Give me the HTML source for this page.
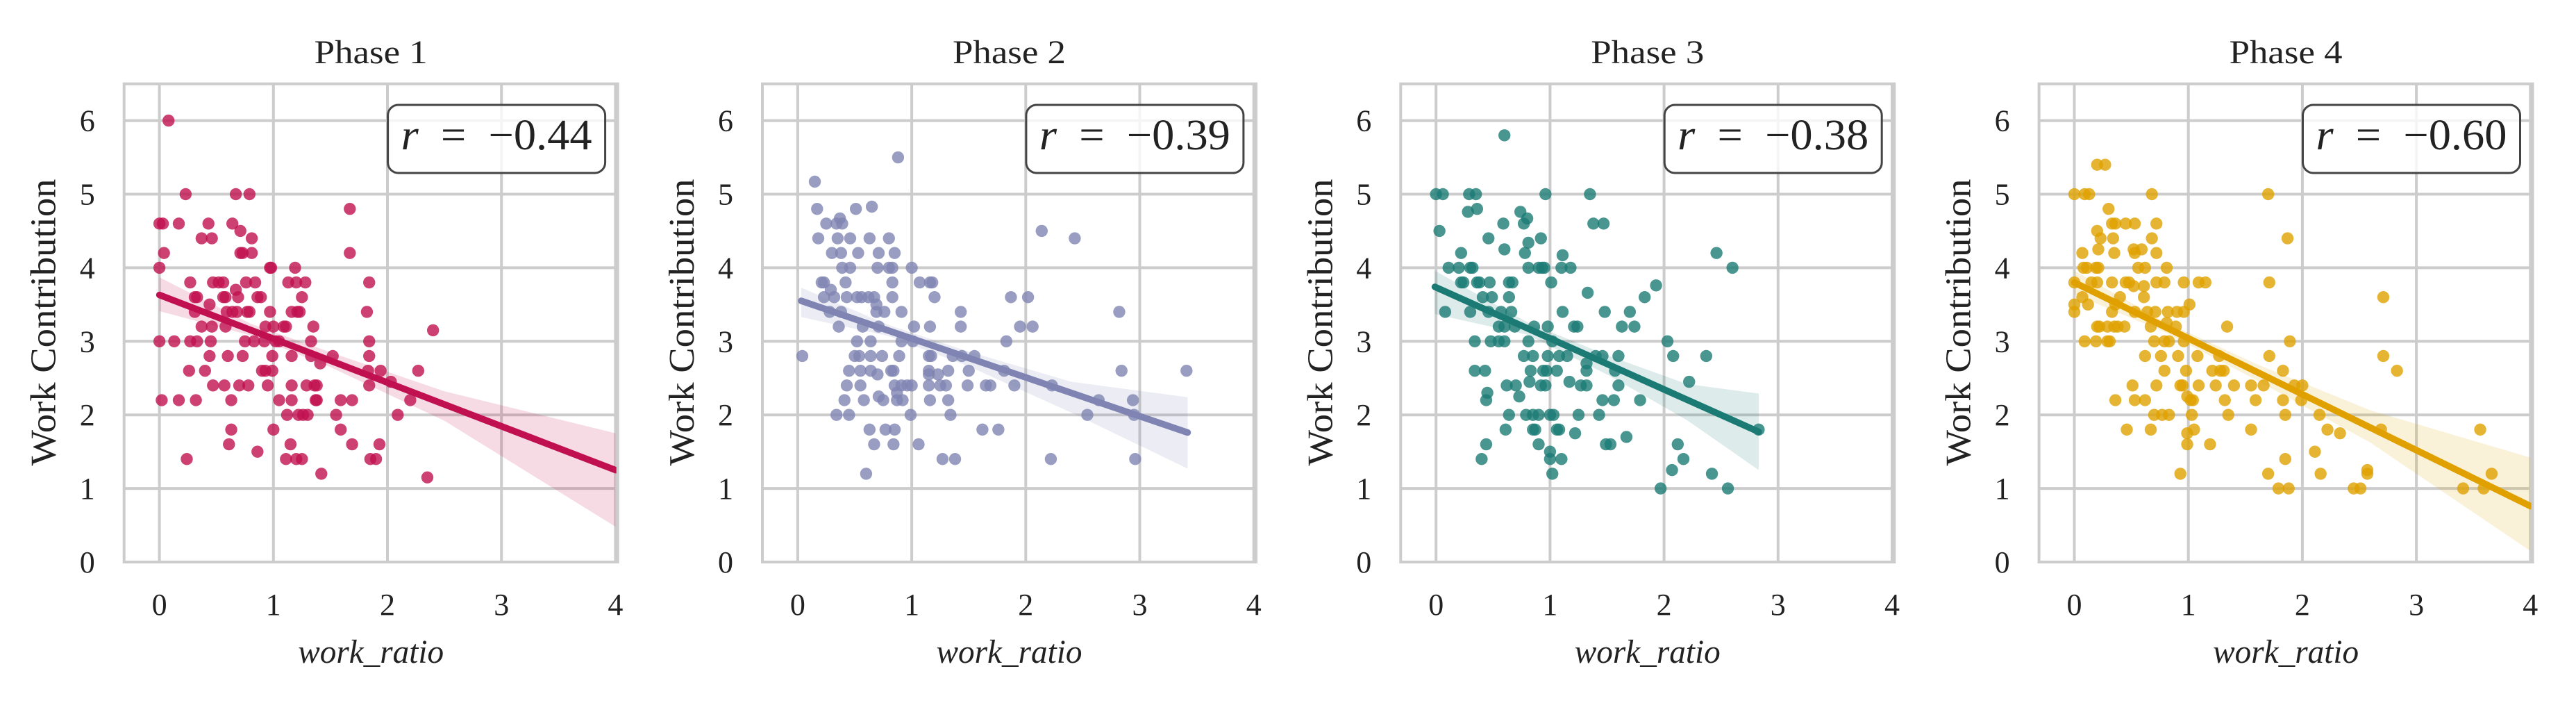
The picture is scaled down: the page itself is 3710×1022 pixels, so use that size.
<!DOCTYPE html>
<html><head><meta charset="utf-8"><style>
html,body{margin:0;padding:0;background:#fff;}
svg{display:block;}
text{font-family:"Liberation Serif",serif;fill:#222;}
</style></head><body>
<svg id="chart" width="3710" height="1022" viewBox="0 0 3710 1022" xmlns="http://www.w3.org/2000/svg"></svg>
<script>
const phaseTitles = ["Phase 1","Phase 2","Phase 3","Phase 4"];
const rLabels = ["\u22120.44","\u22120.39","\u22120.38","\u22120.60"];
const colors = ["#c0104f","#7f84b2","#1b7b74","#e0a100"];
const xTicks = [0,1,2,3,4];
const yTicks = [0,1,2,3,4,5,6];
// scatter data (x = work_ratio, y = Work Contribution)
const p1x = [0.08,0.23,0.67,0.79,1.67,0,0.03,0.17,0.43,0.64,0.71,0.37,0.46,0.81,0.04,0.71,0.73,0.81,1.67,0,0.97,0.98,1.19,0.27,0.47,0.52,0.56,0.76,0.84,1.84,1.13,1.20,1.28,0.67,0.31,0.33,0.56,0.58,0.69,0.86,0.89,1.25,0.44,0.31,0.59,0.64,0.68,0.77,0.79,0.97,1.16,1.21,1.23,1.82,0.37,0.46,0.58,0.93,1.0,1.09,1.11,1.35,2.40,0,0.13,0.27,0.33,0.45,0.75,0.83,0.92,1.02,1.05,1.33,1.84,0.44,0.60,0.73,0.99,1.16,1.33,1.52,1.84,1.41,0.26,0.40,0.90,0.93,0.99,1.83,1.94,2.27,0.47,0.57,0.70,0.78,0.95,1.16,1.29,1.36,1.38,1.84,2.03,0.02,0.17,0.32,0.63,1.05,1.16,1.37,1.38,1.59,1.69,2.20,1.12,1.22,1.26,1.30,1.55,2.09,0.63,1.0,1.59,0.61,1.15,1.69,1.93,0.86,0.24,1.11,1.20,1.25,1.85,1.90,1.42,2.35];
const p1y = [6.0,5.0,5.0,5.0,4.8,4.6,4.6,4.6,4.6,4.6,4.5,4.4,4.4,4.4,4.2,4.2,4.2,4.2,4.2,4.0,4.0,4.0,4.0,3.8,3.8,3.8,3.8,3.8,3.8,3.8,3.8,3.8,3.8,3.7,3.6,3.6,3.6,3.6,3.6,3.6,3.6,3.6,3.5,3.4,3.4,3.4,3.4,3.4,3.4,3.4,3.4,3.4,3.4,3.4,3.2,3.2,3.2,3.2,3.2,3.2,3.2,3.2,3.15,3.0,3.0,3.0,3.0,3.0,3.0,3.0,3.0,3.0,3.0,3.0,3.0,2.8,2.8,2.8,2.8,2.8,2.8,2.8,2.8,2.7,2.6,2.6,2.6,2.6,2.6,2.6,2.6,2.6,2.4,2.4,2.4,2.4,2.4,2.4,2.4,2.4,2.4,2.4,2.45,2.2,2.2,2.2,2.2,2.2,2.2,2.2,2.2,2.2,2.2,2.2,2.0,2.0,2.0,2.0,2.0,2.0,1.8,1.8,1.8,1.6,1.6,1.6,1.6,1.5,1.4,1.4,1.4,1.4,1.4,1.4,1.2,1.15];
const p2x = [0.88,0.15,0.17,0.51,0.65,0.25,0.37,0.39,0.34,2.14,2.43,0.18,0.35,0.46,0.63,0.80,0.30,0.38,0.53,0.71,0.85,0.39,0.46,0.70,0.80,0.83,1.0,0.21,0.23,0.42,0.83,1.07,1.16,1.18,0.29,0.23,0.32,0.43,0.52,0.56,0.62,0.67,0.83,1.20,1.87,2.02,0.69,0.28,0.38,0.69,0.76,0.91,1.43,2.82,0.36,0.57,0.71,1.02,1.16,1.43,1.95,2.06,0.52,0.64,0.91,1.01,1.83,0.04,0.50,0.54,0.64,0.74,0.89,1.15,1.17,1.36,1.44,1.55,0.45,0.55,0.64,0.82,0.84,1.15,1.32,1.50,1.81,2.84,3.41,0.70,1.15,1.23,0.43,0.55,0.85,0.91,0.96,1.0,1.15,1.25,1.30,1.49,1.65,1.69,1.90,2.23,0.87,0.71,0.41,0.58,0.75,0.87,0.92,1.16,1.32,2.64,2.94,0.34,0.45,0.99,1.34,2.54,2.95,0.63,0.77,0.85,1.62,1.76,0.67,0.84,1.06,1.27,1.38,2.22,2.96,0.60];
const p2y = [5.5,5.17,4.8,4.8,4.83,4.6,4.67,4.6,4.6,4.5,4.4,4.4,4.4,4.4,4.4,4.4,4.2,4.2,4.2,4.2,4.2,4.0,4.0,4.0,4.0,4.0,4.0,3.8,3.8,3.8,3.8,3.8,3.8,3.8,3.7,3.6,3.6,3.6,3.6,3.6,3.6,3.6,3.6,3.6,3.6,3.6,3.5,3.4,3.4,3.4,3.4,3.4,3.4,3.4,3.2,3.2,3.2,3.2,3.2,3.2,3.2,3.2,3.0,3.0,3.0,3.0,3.0,2.8,2.8,2.8,2.8,2.8,2.8,2.8,2.8,2.8,2.8,2.8,2.6,2.6,2.6,2.6,2.6,2.6,2.6,2.6,2.6,2.6,2.6,2.55,2.55,2.55,2.4,2.4,2.4,2.4,2.4,2.4,2.4,2.4,2.4,2.4,2.4,2.4,2.4,2.4,2.3,2.25,2.2,2.2,2.2,2.2,2.2,2.2,2.2,2.2,2.2,2.0,2.0,2.0,2.0,2.0,2.0,1.8,1.8,1.8,1.8,1.8,1.6,1.6,1.6,1.4,1.4,1.4,1.4,1.2];
const p3x = [0.60,0.0,0.06,0.29,0.35,0.96,1.35,0.28,0.36,0.74,0.80,0.77,0.59,1.38,1.47,0.03,0.46,0.92,0.81,0.60,0.78,0.22,1.11,2.46,0.11,0.20,0.30,0.32,0.81,0.90,0.93,0.95,1.10,1.18,2.60,0.22,0.24,0.36,0.38,0.47,0.64,0.67,1.01,1.93,1.33,1.83,0.41,0.49,0.64,0.08,0.30,0.46,0.57,0.66,1.11,1.48,1.70,0.55,0.60,0.69,0.86,0.98,1.21,1.24,1.63,1.74,0.34,0.48,0.55,0.60,0.81,1.02,2.03,0.77,0.85,0.98,1.08,1.15,1.40,1.46,1.60,2.08,2.37,1.32,0.34,0.43,0.83,0.94,0.97,1.06,1.32,1.57,0.82,1.17,2.22,0.62,0.70,0.92,0.96,1.27,1.32,1.60,0.45,0.73,0.44,1.46,1.56,1.79,0.64,0.79,0.85,0.90,1.0,1.03,1.25,1.43,0.61,0.85,0.87,1.06,1.08,2.83,1.22,1.67,0.44,0.90,1.49,1.53,2.12,0.40,1.0,1.10,2.17,1.0,2.07,1.02,2.42,1.97,2.56];
const p3y = [5.8,5.0,5.0,5.0,5.0,5.0,5.0,4.76,4.8,4.76,4.67,4.6,4.6,4.6,4.6,4.5,4.4,4.4,4.34,4.25,4.2,4.2,4.17,4.2,4.0,4.0,4.0,4.0,4.0,4.0,4.0,4.0,4.0,4.0,4.0,3.8,3.8,3.8,3.8,3.8,3.8,3.8,3.8,3.76,3.66,3.6,3.6,3.6,3.6,3.4,3.4,3.4,3.4,3.4,3.4,3.4,3.4,3.2,3.2,3.2,3.2,3.2,3.2,3.2,3.2,3.2,3.0,3.0,3.0,3.0,3.0,3.0,3.0,2.8,2.8,2.8,2.8,2.8,2.8,2.8,2.8,2.8,2.8,2.7,2.6,2.6,2.6,2.6,2.6,2.6,2.6,2.6,2.45,2.45,2.45,2.4,2.4,2.4,2.4,2.4,2.4,2.4,2.3,2.25,2.2,2.2,2.2,2.2,2.0,2.0,2.0,2.0,2.0,2.0,2.0,2.0,1.8,1.8,1.8,1.8,1.8,1.8,1.75,1.7,1.6,1.6,1.6,1.6,1.6,1.4,1.4,1.4,1.4,1.5,1.25,1.2,1.2,1.0,1.0];
const p4x = [0.20,0.27,0,0.09,0.13,0.68,1.70,0.30,0.33,0.36,0.45,0.53,0.72,0.20,0.23,0.34,0.68,1.87,0.21,0.52,0.59,0.07,0.35,0.53,0.72,0.08,0.11,0.19,0.21,0.56,0.62,0.81,0,0.15,0.20,0.33,0.45,0.48,0.72,0.79,0.96,1.09,1.15,1.71,0.52,0.61,0.07,0.40,0.61,2.71,0,0.12,0.36,1.01,0,0.33,0.53,0.64,0.71,0.82,0.90,0.96,0.81,0.20,0.22,0.29,0.35,0.38,0.44,0.67,0.89,1.34,0.09,0.19,0.29,0.31,0.70,0.79,0.83,0.96,1.89,0.62,0.76,0.91,1.08,1.27,1.71,2.71,0.79,0.98,1.21,1.28,1.31,1.83,2.83,0.51,0.72,0.93,0.95,1.09,1.24,1.40,1.55,1.66,1.93,2.00,0.99,0.36,0.53,0.62,1.02,1.04,1.32,1.59,1.83,1.99,0.70,0.77,0.83,1.03,1.35,1.85,2.15,0.46,0.67,1.05,1.55,2.22,2.69,3.56,0.99,2.33,0.99,1.19,2.11,1.85,2.57,0.93,1.70,2.16,2.57,3.66,1.79,1.88,2.45,2.51,3.41,3.59];
const p4y = [5.4,5.4,5.0,5.0,5.0,5.0,5.0,4.8,4.6,4.6,4.6,4.6,4.6,4.5,4.4,4.4,4.4,4.4,4.25,4.25,4.25,4.2,4.2,4.2,4.2,4.0,4.0,4.0,4.0,4.0,4.0,4.0,3.8,3.8,3.8,3.8,3.8,3.8,3.8,3.8,3.8,3.8,3.8,3.8,3.75,3.75,3.6,3.6,3.6,3.6,3.5,3.5,3.5,3.5,3.4,3.4,3.4,3.4,3.4,3.4,3.4,3.4,3.25,3.2,3.2,3.2,3.2,3.2,3.2,3.2,3.2,3.2,3.0,3.0,3.0,3.0,3.0,3.0,3.0,3.0,3.0,2.8,2.8,2.8,2.8,2.8,2.8,2.8,2.6,2.6,2.6,2.6,2.6,2.6,2.6,2.4,2.4,2.4,2.4,2.4,2.4,2.4,2.4,2.4,2.4,2.4,2.25,2.2,2.2,2.2,2.2,2.2,2.2,2.2,2.2,2.2,2.0,2.0,2.0,2.0,2.0,2.0,2.0,1.8,1.8,1.8,1.8,1.8,1.8,1.8,1.75,1.75,1.6,1.6,1.5,1.4,1.25,1.2,1.2,1.2,1.2,1.2,1.0,1.0,1.0,1.0,1.0,1.0];
// regression line endpoints [x0,y0,x1,y1]
const fitLines = [[0,3.63,4,1.25],[0.03,3.55,3.42,1.76],[-0.01,3.74,2.83,1.77],[0,3.80,4,0.76]];
// confidence band: x positions with lower/upper bounds
const bandX = [[0,0.8,1.5,2.5,4],[0.03,0.8,1.5,2.4,3.42],[-0.01,0.8,1.5,2.2,2.83],[0,0.8,1.6,2.6,4]];
const bandLo = [[3.41,3.08,2.65,1.92,0.48],[3.33,3.07,2.66,2.03,1.27],[3.37,3.09,2.55,1.93,1.25],[3.64,3.12,2.47,1.62,0.15]];
const bandHi = [[3.87,3.24,2.85,2.32,1.75],[3.73,3.22,2.86,2.45,2.24],[3.96,3.26,2.81,2.42,2.29],[3.96,3.26,2.69,2.06,1.42]];
const allX=[p1x,p2x,p3x,p4x], allY=[p1y,p2y,p3y,p4y];

const NS="http://www.w3.org/2000/svg";
const svg=document.getElementById('chart');
function mk(tag,attrs,parent){const e=document.createElementNS(NS,tag);for(const k in attrs)e.setAttribute(k,attrs[k]);(parent||svg).appendChild(e);return e;}
const XMIN=-0.31,XMAX=4.02,YMIN=0,YMAX=6.5,UX=164.2,UY=105.9,Y0=809;
for(let p=0;p<4;p++){
  const X0=229.6+919.3*p;
  const sx=v=>X0+v*UX, sy=v=>Y0-v*UY;
  const g=mk('g',{});
  
  
  const L=sx(XMIN),R=sx(XMAX),T=sy(YMAX),B=sy(YMIN);
  const clipId='clip'+p;
  const cp=mk('clipPath',{id:clipId},g);mk('rect',{x:L,y:T,width:R-L,height:B-T},cp);
  const grid=mk('g',{},g);
  
  
  xTicks.forEach(t=>mk('line',{x1:sx(t),x2:sx(t),y1:T,y2:B,stroke:'#cccccc','stroke-width':4},grid));
  yTicks.forEach(t=>mk('line',{x1:L,x2:R,y1:sy(t),y2:sy(t),stroke:'#cccccc','stroke-width':4},grid));
  const plot=mk('g',{'clip-path':'url(#'+clipId+')'},g);
  let pts=[];
  bandX[p].forEach((x,i)=>pts.push(sx(x)+','+sy(bandHi[p][i])));
  for(let i=bandX[p].length-1;i>=0;i--)pts.push(sx(bandX[p][i])+','+sy(bandLo[p][i]));
  const band=mk('polygon',{points:pts.join(' '),fill:colors[p],'fill-opacity':0.15},plot);
  
  
  const dots=mk('g',{},plot);
  
  
  allX[p].forEach((x,i)=>{
    const c=mk('circle',{cx:sx(x),cy:sy(allY[p][i]),r:8.7,fill:colors[p],'fill-opacity':0.8},dots);
    
    
  });
  const f=fitLines[p];
  const ln=mk('line',{x1:sx(f[0]),y1:sy(f[1]),x2:sx(f[2]),y2:sy(f[3]),stroke:colors[p],'stroke-width':9.5,'stroke-linecap':'round'},plot);
  
  
  const fr=mk('rect',{x:L,y:T,width:R-L,height:B-T,fill:'none',stroke:'#cccccc','stroke-width':4},g);
  
  
  xTicks.forEach(t=>{const e=mk('text',{x:sx(t),y:885,'font-size':44,'text-anchor':'middle'},g);e.textContent=t;
    });
  yTicks.forEach(t=>{const e=mk('text',{x:L-42,y:sy(t)+15,'font-size':44,'text-anchor':'end'},g);e.textContent=t;
    });
  const ti=mk('text',{x:(L+R)/2,y:91,'font-size':48,'text-anchor':'middle',textLength:163,lengthAdjust:'spacingAndGlyphs'},g);ti.textContent=phaseTitles[p];
  
  const xl=mk('text',{x:(L+R)/2,y:954,'font-size':48,'text-anchor':'middle','font-style':'italic',textLength:210,lengthAdjust:'spacingAndGlyphs'},g);xl.textContent='work_ratio';
  
  const yl=mk('text',{x:0,y:0,'font-size':52,'text-anchor':'middle',textLength:413,lengthAdjust:'spacingAndGlyphs',transform:'translate('+(L-99)+',464) rotate(-90)'},g);yl.textContent='Work Contribution';
  
  const bx=X0+329;
  const box=mk('rect',{x:bx,y:151,width:313,height:98,rx:15,ry:15,fill:'#ffffff','fill-opacity':0.8,stroke:'#444','stroke-width':3},g);
  
  const rt=mk('text',{x:bx+19,y:215,'font-size':62,textLength:275,lengthAdjust:'spacingAndGlyphs'},g);
  
  const ts=mk('tspan',{'font-style':'italic'},rt);ts.textContent='r';
  const ts2=mk('tspan',{},rt);ts2.textContent='\u2002=\u2002'+rLabels[p];
}
</script>
</body></html>
